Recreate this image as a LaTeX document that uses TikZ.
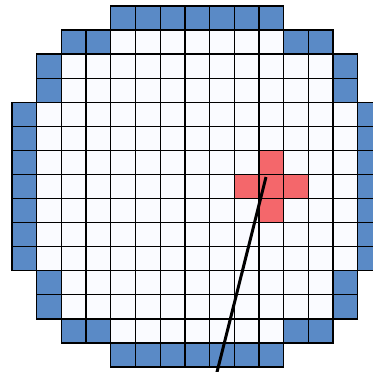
\documentclass[tikz,border=0pt]{standalone}
\definecolor{cellblue}{HTML}{5A8AC6}
\definecolor{cellred}{HTML}{F4676B}
\definecolor{cellwhite}{HTML}{FAFBFF}
\newcommand{\cw}{24.7}
\newcommand{\ch}{24.07}
\newcommand{\cellat}[3]{\filldraw[cell, fill=#3] ({12+#1*\cw},{6+#2*\ch}) rectangle ++(\cw,\ch);}
\begin{document}
\begin{tikzpicture}[x=1pt,y=-1pt, cell/.style={draw=black, line width=1.3pt}, pointer/.style={draw=black, line width=3pt}]
\useasboundingbox (0,0) rectangle (373,372);
\clip (0,0) rectangle (373,372);
% white interior
\foreach \c in {4,...,10} {\cellat{\c}{1}{cellwhite}\cellat{\c}{13}{cellwhite}}
\foreach \r in {2,3,11,12} {\foreach \c in {2,...,12} {\cellat{\c}{\r}{cellwhite}}}
\foreach \r in {4,...,10} {\foreach \c in {1,...,13} {\cellat{\c}{\r}{cellwhite}}}
% blue border
\foreach \c in {4,...,10} {\cellat{\c}{0}{cellblue}\cellat{\c}{14}{cellblue}}
\foreach \r in {1,13} {\foreach \c in {2,3,11,12} {\cellat{\c}{\r}{cellblue}}}
\foreach \r in {2,3,11,12} {\foreach \c in {1,13} {\cellat{\c}{\r}{cellblue}}}
\foreach \r in {4,...,10} {\foreach \c in {0,14} {\cellat{\c}{\r}{cellblue}}}
% red cross
\cellat{10}{6}{cellred}
\cellat{9}{7}{cellred}
\cellat{10}{7}{cellred}
\cellat{11}{7}{cellred}
\cellat{10}{8}{cellred}
% pointer line
\coordinate (ptop) at (266,177);
\coordinate (pbot) at (210,400);
\draw[pointer] (ptop) -- (pbot);
\end{tikzpicture}
\end{document}
